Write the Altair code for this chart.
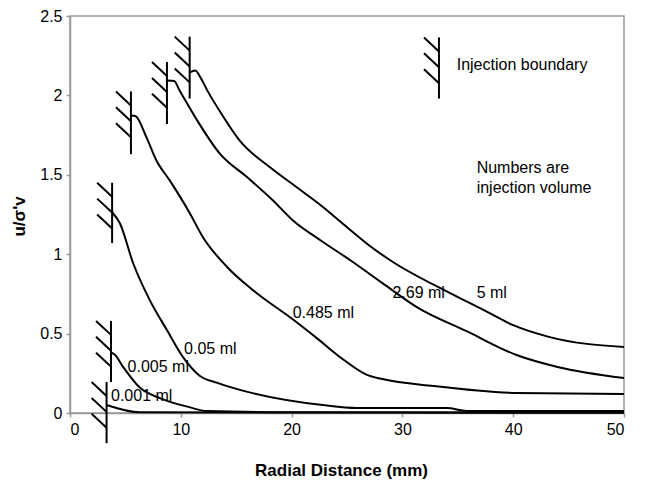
import altair as alt
import pandas as pd

# ---- curve data ----
series_names = ["5 ml", "2.69 ml", "0.485 ml", "0.05 ml", "0.005 ml", "0.001 ml"]

x_5 = [10.8, 11.3, 11.8, 12.4, 13.8, 15.3, 18.05, 20.5, 22.6, 25.0, 27.1, 28.9, 34.3, 37.3, 40.0, 43.3, 50.0]
y_5 = [2.145, 2.157, 2.11, 2.03, 1.87, 1.717, 1.547, 1.42, 1.31, 1.17, 1.05, 0.962, 0.755, 0.65, 0.553, 0.478, 0.415]

x_269 = [8.75, 9.4, 9.9, 11.5, 13.5, 16.0, 18.3, 20.1, 22.6, 25.3, 28.2, 31.3, 35.8, 40.3, 44.0, 50.0]
y_269 = [2.094, 2.09, 2.03, 1.84, 1.635, 1.484, 1.34, 1.214, 1.088, 0.962, 0.818, 0.667, 0.515, 0.365, 0.29, 0.22]

x_0485 = [5.5, 5.9, 6.9, 7.8, 9.0, 10.8, 12.0, 14.2, 16.5, 20.1, 22.3, 24.6, 26.8, 28.2, 32.8, 40.3, 50.0]
y_0485 = [1.874, 1.87, 1.736, 1.59, 1.465, 1.26, 1.107, 0.918, 0.774, 0.59, 0.47, 0.34, 0.24, 0.214, 0.17, 0.126, 0.12]

x_005 = [3.8, 4.5, 5.7, 7.2, 8.75, 10.2, 11.7, 13.3, 16.2, 22.8, 25.9, 34.0, 35.8, 50.0]
y_005 = [1.264, 1.195, 0.943, 0.711, 0.522, 0.352, 0.235, 0.19, 0.13, 0.05, 0.031, 0.031, 0.013, 0.013]

x_0005 = [3.7, 4.0, 4.8, 6.3, 8.1, 10.6, 12.4, 20.0, 50.0]
y_0005 = [0.38, 0.37, 0.29, 0.16, 0.094, 0.04, 0.012, 0.005, 0.003]

x_0001 = [3.3, 6.3, 50.0]
y_0001 = [0.05, 0.004, 0.002]

# injection boundaries: x, top, bottom
bound_x = [10.8, 8.75, 5.5, 3.8, 3.7, 3.3, 33.3]
bound_top = [2.37, 2.21, 2.025, 1.45, 0.58, 0.195, 2.365]
bound_bot = [1.98, 1.82, 1.63, 1.07, 0.195, -0.19, 1.98]

# annotations
label_text = ["0.05 ml", "0.005 ml", "0.001 ml", "0.485 ml", "2.69 ml", "5 ml",
              "Injection boundary", "Numbers are", "injection volume"]
label_x = [10.3, 5.2, 3.7, 20.1, 29.1, 36.7, 34.9, 36.7, 36.7]
label_y = [0.40, 0.29, 0.107, 0.63, 0.755, 0.755, 2.19, 1.54, 1.42]

x_ticks = [0, 10, 20, 30, 40, 50]
y_ticks = [0, 0.5, 1, 1.5, 2, 2.5]

# ---- build tables ----
rows = []
for name, xs, ys in zip(series_names,
                        [x_5, x_269, x_0485, x_005, x_0005, x_0001],
                        [y_5, y_269, y_0485, y_005, y_0005, y_0001]):
    for i, (a, b) in enumerate(zip(xs, ys)):
        rows.append({"series": name, "x": a, "y": b, "order": i})
curves = pd.DataFrame(rows)

HX, HDY, HSP = 1.35, 0.088, 0.1
seg = []
for bx, bt, bb in zip(bound_x, bound_top, bound_bot):
    seg.append({"x": bx, "y": bt, "x2": bx, "y2": bb})
    for k in range(3):
        seg.append({"x": bx - HX, "y": bt - k * HSP, "x2": bx, "y2": bt - HDY - k * HSP})
segs = pd.DataFrame(seg)

labels = pd.DataFrame({"text": label_text, "x": label_x, "y": label_y})

FONT = "Liberation Sans"
xscale = alt.Scale(domain=[0, 50], nice=False, zero=False)
yscale = alt.Scale(domain=[0, 2.5], nice=False, zero=False)

lines = alt.Chart(curves).mark_line(color="black", strokeWidth=2, interpolate="monotone").encode(
    x=alt.X("x:Q", scale=xscale,
            axis=alt.Axis(values=x_ticks, title="Radial Distance (mm)", titleX=271, titleY=49)),
    y=alt.Y("y:Q", scale=yscale,
            axis=alt.Axis(values=y_ticks, title="u/σ'v", labelExpr="'' + datum.value",
                          titleX=-42, titleY=200)),
    detail="series:N",
    order="order:Q",
)

hatch = alt.Chart(segs).mark_rule(color="black", strokeWidth=2).encode(
    x="x:Q", y="y:Q", x2="x2:Q", y2="y2:Q"
)

text = alt.Chart(labels).mark_text(align="left", baseline="middle", font=FONT, fontSize=16, color="black").encode(
    x="x:Q", y="y:Q", text="text:N"
)

chart = alt.layer(lines, hatch, text).properties(
    width=554, height=397,
    autosize=alt.AutoSizeParams(type="none"),
    padding={"left": 62, "top": 8, "right": 12, "bottom": 70},
).configure_view(
    stroke="#999999", strokeWidth=1.5
).configure_axis(
    grid=False, domainColor="#999999", domainWidth=1.5, tickColor="#999999", tickSize=4,
    tickWidth=1.5,
    labelFont=FONT, labelFontSize=16, labelColor="black", labelPadding=4,
    titleFont=FONT, titleFontSize=17, titleFontWeight="bold", titleColor="black",
)

chart.save("out.html", embed_options={"renderer": "svg", "actions": False})
